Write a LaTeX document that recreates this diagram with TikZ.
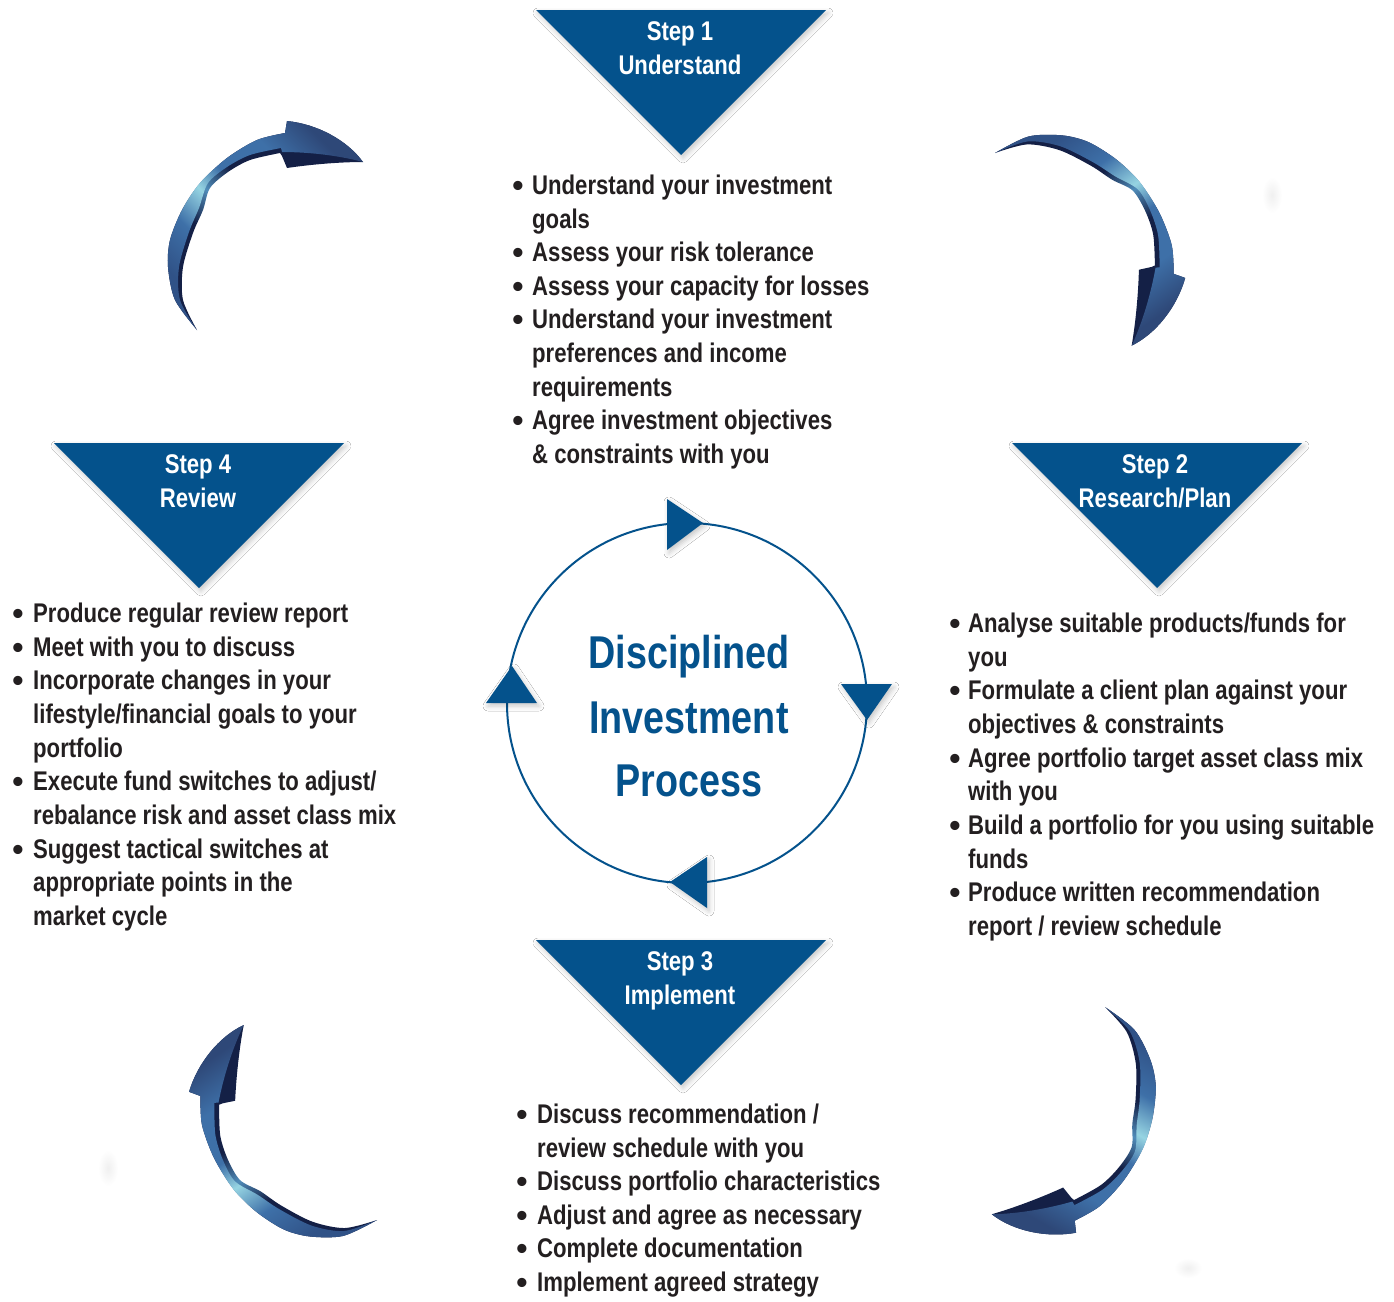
\documentclass[tikz,border=0pt]{standalone}
\usepackage{fontspec}
\newfontfamily\condb[FakeStretch=0.82]{Liberation Sans}
\newfontfamily\plainf{Liberation Sans}
\usetikzlibrary{shadows.blur,calc}
\definecolor{stepblue}{RGB}{4,82,140}
\definecolor{txtdark}{RGB}{35,31,32}
\definecolor{atail}{RGB}{48,82,135}
\definecolor{amid}{RGB}{62,112,168}
\definecolor{alight}{RGB}{150,212,226}
\definecolor{ahead}{RGB}{46,72,120}
\definecolor{anavy}{RGB}{20,32,70}
\definecolor{aside}{RGB}{80,140,185}
\pgfdeclarehorizontalshading{arrowface}{100bp}{color(0bp)=(atail); color(25bp)=(atail); color(36bp)=(amid); color(45bp)=(alight); color(52bp)=(amid); color(64bp)=(amid); color(75bp)=(ahead); color(100bp)=(ahead)}
\pgfdeclarehorizontalshading{arrowside}{100bp}{color(0bp)=(anavy); color(25bp)=(anavy); color(38bp)=(anavy); color(46bp)=(aside); color(54bp)=(anavy); color(75bp)=(anavy); color(100bp)=(anavy)}
\begin{document}
\begin{tikzpicture}[x=1pt,y=-1pt,
  stepbox/.style={fill=stepblue, draw=none, blur shadow={shadow xshift=2pt, shadow yshift=-3pt, shadow blur radius=5pt, shadow opacity=22}},
  basefont/.style={font=\condb\bfseries\fontsize{27}{33.6}\selectfont, inner sep=0pt},
  steptxt/.style={basefont, text=white, anchor=base},
  body/.style={basefont, text=txtdark, anchor=base west},
  bul/.style={font=\plainf\bfseries\fontsize{32}{32}\selectfont, text=txtdark, anchor=base, inner sep=0pt, text height=8pt, text depth=0pt},
  ctr/.style={font=\condb\bfseries\fontsize{46}{55}\selectfont, text=stepblue, anchor=base, inner sep=0pt},
  pics/curvarrow/.style={code={
    \shade[shading=arrowside, shading angle=#1] plot[smooth] coordinates {(0,0) (-22,-30) (-29,-63) (-27,-90) (-15,-120) (3,-147) (30,-172) (60,-190) (88,-197)}
      -- (90,-209) .. controls (120,-206) and (150,-190) .. (166,-168)
      .. controls (140,-168) and (110,-165) .. (90,-162) -- (85,-174)
      -- plot[smooth] coordinates {(83,-177) (53,-170) (31,-158) (13,-142) (6,-120) (-4,-97) (-14,-63) (-14,-30) (0,0)} -- cycle;
    \shade[shading=arrowface, shading angle=#1] plot[smooth] coordinates {(0,0) (-22,-30) (-29,-63) (-27,-90) (-15,-120) (3,-147) (30,-172) (60,-190) (88,-197)}
      -- (90,-209) .. controls (120,-206) and (150,-190) .. (166,-168)
      .. controls (140,-175) and (110,-178) .. (85,-178)
      -- plot[smooth] coordinates {(84,-182) (53,-175) (30,-163) (11,-147) (2,-122) (-8,-98) (-18,-63) (-17,-30) (0,0)} -- cycle;
  }}
]
\useasboundingbox (0,0) rectangle (1394,1301);
\fill[white] (0,0) rectangle (1394,1301);

% faint smudges
\shade[inner color=black!6, outer color=white] (1272,195) ellipse (10 and 18);
\shade[inner color=black!6, outer color=white] (108,1168) ellipse (10 and 18);
\shade[inner color=black!6, outer color=white] (1188,1268) ellipse (14 and 10);

% curved arrows
\pic at (197,330) {curvarrow=45};
\pic[rotate=-100] at (995,153) {curvarrow=-55};
\pic[rotate=-164] at (1105,1007) {curvarrow=-119};
\pic[rotate=79] at (377,1220) {curvarrow=124};

% step triangles
\path[stepbox] (536,10) -- (826,10) -- (681,155) -- cycle;
\path[stepbox] (1012,443) -- (1302,443) -- (1157,588) -- cycle;
\path[stepbox] (536,940) -- (826,940) -- (681,1085) -- cycle;
\path[stepbox] (54,443) -- (344,443) -- (199,588) -- cycle;

\node[steptxt] (s1a) at (680,40) {Step 1};
\node[steptxt] (s1b) at (680,74) {Understand};
\node[steptxt] (s2a) at (1155,473) {Step 2};
\node[steptxt] (s2b) at (1155,507) {Research/Plan};
\node[steptxt] (s3a) at (680,970) {Step 3};
\node[steptxt] (s3b) at (680,1004) {Implement};
\node[steptxt] (s4a) at (198,473) {Step 4};
\node[steptxt] (s4b) at (198,507) {Review};

% central ring
\node[draw=stepblue, line width=2pt, circle, minimum size=360pt, inner sep=0pt] (ring) at (687,703) {};
\path[stepbox] (667,499) -- (667,550) -- (703,523) -- cycle;
\path[stepbox] (841,684) -- (892,684) -- (867,720) -- cycle;
\path[stepbox] (707,857) -- (707,908) -- (670,882) -- cycle;
\path[stepbox] (486,703) -- (537,703) -- (512,666) -- cycle;

\node[ctr] (c1) at (689,668) {Disciplined};
\node[ctr] (c2) at (689,733) {Investment};
\node[ctr] (c3) at (689,796) {Process};

% block 1
\foreach [count=\i] \b/\t in {1/{Understand your investment}, 0/{goals}, 1/{Assess your risk tolerance}, 1/{Assess your capacity for losses}, 1/{Understand your investment}, 0/{preferences and income}, 0/{requirements}, 1/{Agree investment objectives}, 0/{\& constraints with you}}{
  \node[body] (one-\i) at (532,{194.5+(\i-1)*33.6}) {\t};
  \ifnum\b=1 \node[bul] (oneb-\i) at (518,{196.5+(\i-1)*33.6}) {•};\fi
}
% block 2
\foreach [count=\i] \b/\t in {1/{Analyse suitable products/funds for}, 0/{you}, 1/{Formulate a client plan against your}, 0/{objectives \& constraints}, 1/{Agree portfolio target asset class mix}, 0/{with you}, 1/{Build a portfolio for you using suitable}, 0/{funds}, 1/{Produce written recommendation}, 0/{report / review schedule}}{
  \node[body] (two-\i) at (968,{632.5+(\i-1)*33.67}) {\t};
  \ifnum\b=1 \node[bul] (twob-\i) at (955,{634.5+(\i-1)*33.67}) {•};\fi
}
% block 3
\foreach [count=\i] \b/\t in {1/{Discuss recommendation /}, 0/{review schedule with you}, 1/{Discuss portfolio characteristics}, 1/{Adjust and agree as necessary}, 1/{Complete documentation}, 1/{Implement agreed strategy}}{
  \node[body] (three-\i) at (537,{1123.5+(\i-1)*33.6}) {\t};
  \ifnum\b=1 \node[bul] (threeb-\i) at (522,{1125.5+(\i-1)*33.6}) {•};\fi
}
% block 4
\foreach [count=\i] \b/\t in {1/{Produce regular review report}, 1/{Meet with you to discuss}, 1/{Incorporate changes in your}, 0/{lifestyle/financial goals to your}, 0/{portfolio}, 1/{Execute fund switches to adjust/}, 0/{rebalance risk and asset class mix}, 1/{Suggest tactical switches at}, 0/{appropriate points in the}, 0/{market cycle}}{
  \node[body] (four-\i) at (33,{622.5+(\i-1)*33.67}) {\t};
  \ifnum\b=1 \node[bul] (fourb-\i) at (18,{624.5+(\i-1)*33.67}) {•};\fi
}
\end{tikzpicture}
\end{document}
